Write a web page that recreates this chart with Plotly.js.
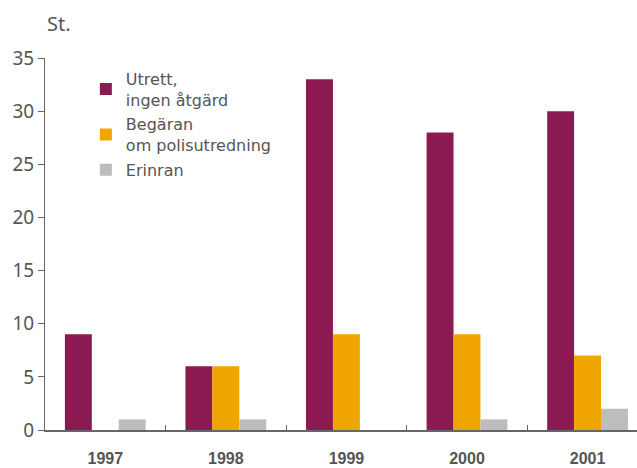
<!DOCTYPE html>
<html>
<head>
<meta charset="utf-8">
<script src="https://cdn.plot.ly/plotly-3.0.1.min.js"></script>
<style>html,body{margin:0;padding:0;background:#fff;}#chart{width:637px;height:468px;}</style>
</head>
<body>
<div id="chart"></div>
<script>
const years = ['1997', '1998', '1999', '2000', '2001'];
const seriesNames = ['Utrett,<br>ingen åtgärd', 'Begäran<br>om polisutredning', 'Erinran'];
const utrett = [9, 6, 33, 28, 30];
const begaran = [0, 6, 9, 9, 7];
const erinran = [1, 1, 0, 1, 2];
const yTicks = [0, 5, 10, 15, 20, 25, 30, 35];
const unitLabel = 'St.';

const colors = ['#8B1A52', '#F0A500', '#BDBDBD'];
const values = [utrett, begaran, erinran];

const traces = values.map((v, i) => ({
  type: 'bar',
  x: years,
  y: v,
  name: seriesNames[i],
  legendgroup: 'g' + i,
  marker: {color: colors[i], line: {width: 0}},
  hoverinfo: 'x+y'
}));

const font = 'Noto Sans, Open Sans, DejaVu Sans, sans-serif';
const legendFont = 'DejaVu Sans, Noto Sans, sans-serif';
const yearFont = 'Liberation Sans, Arial, Noto Sans, sans-serif';
const layout = {
  width: 637,
  height: 468,
  margin: {l: 45, r: 0, t: 58, b: 38},
  paper_bgcolor: '#fff',
  plot_bgcolor: '#fff',
  barmode: 'group',
  bargap: 0.33,
  bargroupgap: 0,
  showlegend: true,
  legend: {
    x: 0.069, y: 0.99, xanchor: 'left', yanchor: 'top',
    font: {family: legendFont, size: 16, color: '#555'},
    bgcolor: 'rgba(0,0,0,0)',
    tracegroupgap: 1,
    itemwidth: 30
  },
  font: {family: font, color: '#555'},
  xaxis: {
    type: 'category',
    range: [-0.5, 4.41],
    showgrid: false,
    zeroline: false,
    showline: true,
    linecolor: '#666',
    linewidth: 2,
    ticks: 'inside',
    tickson: 'boundaries',
    ticklen: 5,
    tickcolor: '#666',
    tickwidth: 1,
    ticklabelstandoff: 13,
    tickfont: {family: yearFont, size: 16, color: '#555', weight: 'bold'}
  },
  yaxis: {
    range: [0, 35],
    tickvals: yTicks,
    showgrid: false,
    zeroline: false,
    showline: true,
    linecolor: '#666',
    linewidth: 1,
    ticks: 'outside',
    ticklen: 6,
    tickcolor: '#666',
    tickfont: {family: font, size: 19, color: '#555'}
  },
  annotations: [{
    text: unitLabel,
    xref: 'paper', yref: 'paper',
    x: 0, y: 1, xanchor: 'left', yanchor: 'middle',
    xshift: 0, yshift: 35,
    showarrow: false,
    font: {family: font, size: 20, color: '#555'}
  }]
};

Plotly.newPlot('chart', traces, layout, {displayModeBar: false, staticPlot: true});
</script>
</body>
</html>
